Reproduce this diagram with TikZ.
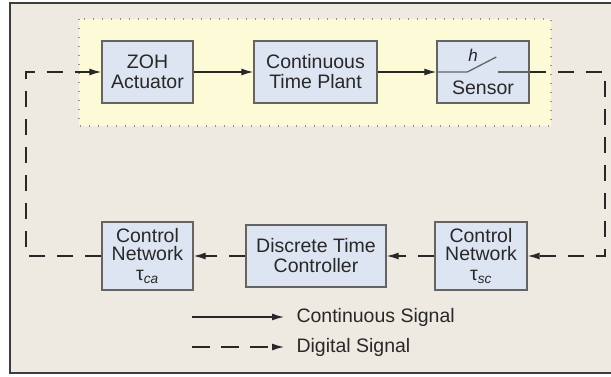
\documentclass[tikz,border=0pt]{standalone}
\usepackage{fontspec}
\setmainfont{Liberation Sans}
\usetikzlibrary{
  arrows.meta,
  positioning,
}
\definecolor{panel}{RGB}{238,234,226}
\definecolor{plantzone}{RGB}{253,250,215}
\definecolor{blockfill}{RGB}{221,228,242}
\definecolor{blockline}{RGB}{100,100,100}
\definecolor{ink}{RGB}{40,40,40}
\tikzstyle{block} = [
rectangle,
draw=blockline,
line width=1.4pt,
fill=blockfill,
text=ink,
align=center,
inner sep=0pt
]
\tikzstyle{signal} = [draw=ink, line width=1.3pt, -{Latex[length=12pt,width=7pt]}]
\tikzstyle{digital} = [draw=ink, line width=1.3pt, dash pattern=on 16pt off 12pt, -{Latex[length=12pt,width=7pt]}]

\begin{document}
\begin{tikzpicture}[x=1pt, y=-1pt, font=\fontsize{19.5}{20}\selectfont]
  \useasboundingbox (0,0) rectangle (611,376);
  % Frame and plant zone
  \draw[fill=panel, draw=ink!90, line width=2pt] (10,3) rectangle (630,373);
  \draw[fill=plantzone, draw=blockline!70, line width=1.2pt,
        dash pattern=on 1.2pt off 7.8pt] (79,19) rectangle (551,126);

  % Place nodes
  \node [block, minimum width=91pt, minimum height=62pt] (zoh) at (147.5,72) {ZOH\\Actuator};
  \node [block, minimum width=123pt, minimum height=62pt] (plant) at (315.5,72) {Continuous\\Time Plant};
  \node [block, minimum width=92pt, minimum height=62pt] (sensor) at (483,72) {};
  \node [text=ink] (sensortext) at (483,88) {Sensor};

  \node [block, minimum width=91pt, minimum height=68pt] (netca) at (147.5,256) {Control\\[-2pt]Network\\τ\textsubscript{\textit{ca}}};
  \node [block, minimum width=140pt, minimum height=62pt] (ctrl) at (316,256) {Discrete Time\\Controller};
  \node [block, minimum width=92pt, minimum height=68pt] (netsc) at (481,256) {Control\\[-2pt]Network\\τ\textsubscript{\textit{sc}}};

  % Sampler inside the sensor
  \coordinate (swa) at ([xshift=31pt]sensor.west);
  \coordinate (swb) at ([xshift=60pt,yshift=15pt]sensor.west);
  \coordinate (swc) at ([xshift=62pt]sensor.west);
  \draw[blockline, line width=1.3pt] (sensor.west) -- (swa) -- (swb);
  \draw[blockline, line width=1.3pt] (swc) -- (sensor.east);
  \node[text=ink, font=\fontsize{17}{17}\selectfont\itshape] (hlabel) at (473,55) {h};

  % Loop corners
  \coordinate (rt) at (605,72);
  \coordinate (rb) at (605,256);
  \coordinate (lb) at (26,256);
  \coordinate (lt) at (26,72);

  % Draw edges
  \path [signal] (zoh) -- (plant);
  \path [signal] (plant) -- (sensor);
  \path [digital] (sensor.east) -- (rt) -- (rb) -- (netsc.east);
  \path [digital] (netsc) -- (ctrl);
  \path [digital] (ctrl) -- (netca);
  \path [digital] (netca.west) -- (lb) -- (lt) -- (zoh.west);

  % Legend
  \coordinate (cs1) at (192,317);
  \coordinate (cs2) at (284,317);
  \coordinate (ds1) at (192,347);
  \coordinate (ds2) at (284,347);
  \node[text=ink, anchor=west] (cleg) at (293,317) {Continuous Signal};
  \node[text=ink, anchor=west] (dleg) at (293,347) {Digital Signal};
  \path [signal] (cs1) -- (cs2);
  \path [digital, dash pattern=on 18pt off 11pt] (ds1) -- (ds2);
\end{tikzpicture}
\end{document}
